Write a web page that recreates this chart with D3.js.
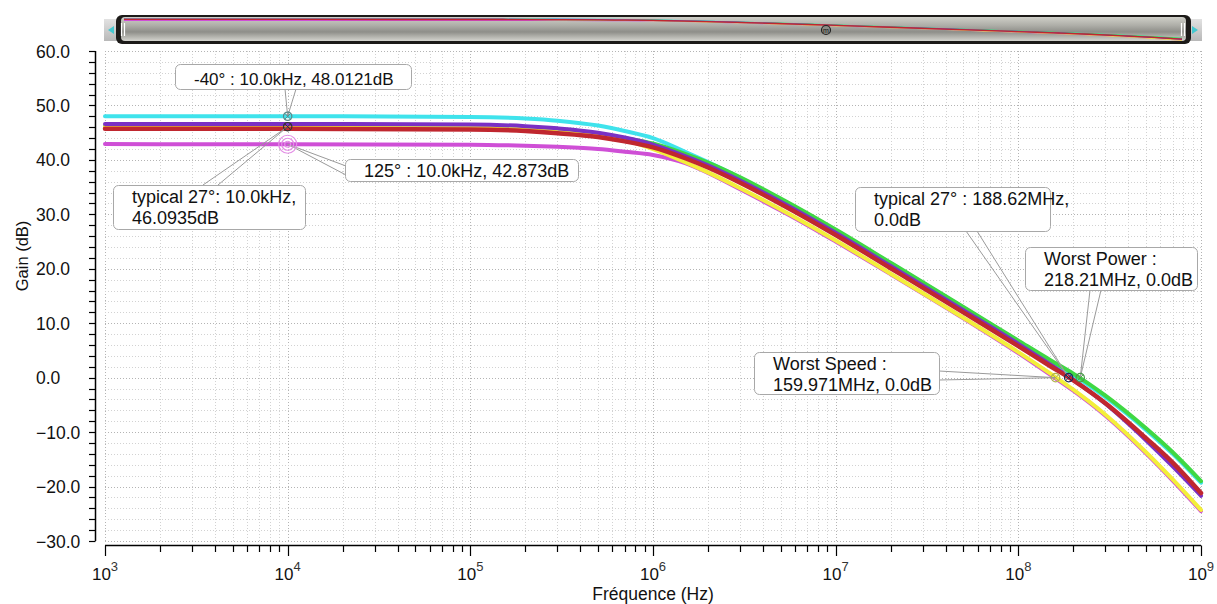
<!DOCTYPE html>
<html><head><meta charset="utf-8">
<script src="https://cdn.jsdelivr.net/npm/d3@7"></script>
<style>
body{margin:0;background:#fff}
svg{display:block;font-family:"Liberation Sans",Arial,Helvetica,sans-serif}
</style>
</head><body>
<svg id="c" width="1217" height="604"></svg>
<script>
// ---------- DATA ----------
const freqs = [1e3,1e4,1e5,2e5,3e5,5e5,7e5,1e6,1.5e6,2e6,3e6,5e6,7e6,1e7,2e7,5e7,1e8,1.5e8,2e8,3e8,5e8,7e8,1e9];
const gainMinus40  = [48.0,48.01,47.9,47.6,47.2,46.3,45.3,44.0,41.5,39.6,36.7,32.7,30.0,27.0,21.0,12.9,6.6,3.0,0.5,-3.6,-9.6,-14.0,-19.3];
const gain125      = [42.9,42.87,42.8,42.6,42.4,42.0,41.5,40.9,39.4,37.6,34.6,30.7,28.0,25.0,19.0,10.9,4.5,0.5,-2.4,-7.0,-13.9,-18.9,-24.5];
const gainWorstPow = [46.2,46.2,46.1,45.8,45.4,44.8,44.0,43.0,41.1,39.5,36.8,32.9,30.2,27.2,21.1,13.0,6.8,3.2,0.75,-3.3,-9.3,-13.7,-19.0];
const gainWorstSpd = [46.1,46.1,46.0,45.7,45.3,44.5,43.6,42.0,39.6,37.7,34.8,30.9,28.2,25.2,19.1,11.0,4.7,0.74,-2.2,-6.8,-13.7,-18.7,-24.3];
const gainPurple   = [46.6,46.6,46.5,46.2,45.8,45.0,44.1,42.8,40.7,39.0,36.2,32.3,29.6,26.6,20.5,12.4,6.2,2.4,-0.4,-4.8,-11.5,-16.3,-21.7];
const gainTypical  = [45.7,45.7,45.6,45.3,44.9,44.2,43.4,42.3,40.3,38.6,35.8,31.9,29.2,26.2,20.1,12.0,5.8,2.1,-0.5,-4.7,-11.1,-15.6,-21.2];

const seriesNames  = ["-40°","125°","Worst Power","Worst Speed","corner","typical 27°"];
const seriesValues = [gainMinus40,gain125,gainWorstPow,gainWorstSpd,gainPurple,gainTypical];
const seriesColors = ["#3fe3ec","#cf4fd6","#3fd843","#f3ef3a","#7a30c4","#c0272f"];

const yTickValues = [-30,-20,-10,0,10,20,30,40,50,60];
const xTickExponents = [3,4,5,6,7,8,9];

const annotLines = [
  ["-40° : 10.0kHz, 48.0121dB"],
  ["typical 27°: 10.0kHz,","46.0935dB"],
  ["125° : 10.0kHz, 42.873dB"],
  ["typical 27° : 188.62MHz,","0.0dB"],
  ["Worst Power :","218.21MHz, 0.0dB"],
  ["Worst Speed :","159.971MHz, 0.0dB"]
];
const annotFreq = [1e4,1e4,1e4,188.62e6,218.21e6,159.971e6];
const annotGain = [48.0121,46.0935,42.873,0,0,0];

// ---------- LAYOUT ----------
const L = 105, R = 1201, T = 51, B = 541;
const boxes = [ // left, top, width, height, font size, leader anchors
  {x:175,y:64,w:236,h:25,fs:17,a:[[285,89],[296,89]]},
  {x:113,y:185,w:192,h:44,fs:18,a:[[203,185],[218,185]]},
  {x:345,y:159,w:233,h:22,fs:18,a:[[346,166],[346,175]]},
  {x:855,y:187,w:195,h:44,fs:18,a:[[966,231],[977,231]]},
  {x:1025,y:247,w:172,h:43,fs:18,a:[[1090,290],[1101,290]]},
  {x:754,y:352,w:185,h:42,fs:18,a:[[939,371],[939,380]]}
];

const svg = d3.select("#c");
const x = d3.scaleLog().domain([1e3,1e9]).range([L,R]);
const y = d3.scaleLinear().domain([-30,60]).range([B,T]);
const isDecade = d => Math.abs(Math.log10(d) - Math.round(Math.log10(d))) < 1e-9;

// ---------- GRID ----------
const grid = svg.append("g");
const minorX = [];
for (let e=3;e<9;e++) for (let m=1;m<10;m++) minorX.push(m*Math.pow(10,e));
minorX.push(1e9);
grid.selectAll("line.gx").data(minorX).join("line")
  .attr("x1",d=>Math.round(x(d))+0.5).attr("x2",d=>Math.round(x(d))+0.5)
  .attr("y1",T).attr("y2",B)
  .attr("stroke",d=>isDecade(d)?"#b4b4b4":"#d2d2d2")
  .attr("stroke-dasharray","1,2");
const minorY = d3.range(-30,61,2);
grid.selectAll("line.gy").data(minorY).join("line")
  .attr("x1",L).attr("x2",R)
  .attr("y1",d=>Math.round(y(d))+0.5).attr("y2",d=>Math.round(y(d))+0.5)
  .attr("stroke",d=>d%10===0?"#b4b4b4":"#d2d2d2")
  .attr("stroke-dasharray","1,2");

// ---------- AXES ----------
const yAxis = svg.append("g");
yAxis.append("line").attr("x1",95.5).attr("x2",95.5).attr("y1",T).attr("y2",B).attr("stroke","#000").attr("stroke-width",1.5);
yAxis.selectAll("line.t").data(minorY).join("line")
  .attr("x1",89).attr("x2",95.5)
  .attr("y1",d=>Math.round(y(d))+0.5).attr("y2",d=>Math.round(y(d))+0.5)
  .attr("stroke","#000").attr("stroke-width",1.2);
yAxis.selectAll("text").data(yTickValues).join("text")
  .attr("x",36).attr("y",d=>y(d)+6.5)
  .attr("font-size",17.5).attr("fill","#111")
  .text(d=>d3.format(".1f")(d));

const xAxis = svg.append("g");
xAxis.append("line").attr("x1",L).attr("x2",R).attr("y1",545.5).attr("y2",545.5).attr("stroke","#000").attr("stroke-width",1.5);
xAxis.selectAll("line.t").data(minorX).join("line")
  .attr("x1",d=>Math.round(x(d))+0.5).attr("x2",d=>Math.round(x(d))+0.5)
  .attr("y1",545.5)
  .attr("y2",d=>isDecade(d)?556:552)
  .attr("stroke","#000").attr("stroke-width",1.2);
const xl = xAxis.selectAll("text").data(xTickExponents).join("text")
  .attr("x",d=>x(Math.pow(10,d))).attr("y",580)
  .attr("text-anchor","middle").attr("fill","#111");
xl.append("tspan").attr("font-size",17).text("10");
xl.append("tspan").attr("font-size",13).attr("dy",-9).attr("fill","#333").text(d=>d);

svg.append("text").attr("x",653).attr("y",600).attr("text-anchor","middle")
  .attr("font-size",17.5).attr("fill","#111").text("Fréquence (Hz)");
svg.append("text").attr("transform","translate(28,256) rotate(-90)")
  .attr("text-anchor","middle").attr("font-size",16.5).attr("fill","#111").text("Gain (dB)");

// ---------- CURVES ----------
const line = d3.line().x((d,i)=>x(freqs[i])).y(d=>y(d)).curve(d3.curveMonotoneX);
const curves = svg.append("g");
seriesValues.forEach((vals,k)=>{
  curves.append("path").attr("d",line(vals)).attr("fill","none")
    .attr("stroke",seriesColors[k]).attr("stroke-width",k===5?4.5:4)
    .attr("stroke-linejoin","round").attr("stroke-linecap","round");
});

// ---------- ANNOTATIONS ----------
const ann = svg.append("g");
annotLines.forEach((lines,i)=>{
  const b = boxes[i];
  const px = x(annotFreq[i]), py = y(annotGain[i]);
  b.a.forEach(p=>{
    ann.append("line").attr("x1",p[0]).attr("y1",p[1]).attr("x2",px).attr("y2",py)
      .attr("stroke","#9a9a9a").attr("stroke-width",1);
  });
});
const mk = svg.append("g");
[3,6,9].forEach(r=>mk.append("circle").attr("cx",x(annotFreq[2])).attr("cy",y(annotGain[2])).attr("r",r)
  .attr("fill","none").attr("stroke","#e48ee6").attr("stroke-width",1.2));
const markerColors = ["#5a8a8a","#333","#e48ee6","#1c2a5a","#4a9a4a","#b0b050"];
[0,1,3,4,5].forEach(i=>{
  const px = x(annotFreq[i]), py = y(annotGain[i]);
  const g = mk.append("g").attr("transform",`translate(${px},${py})`);
  g.append("circle").attr("r",4.2).attr("fill","none").attr("stroke",markerColors[i]).attr("stroke-width",1.2);
  g.append("path").attr("d","M-3,-3L3,3M-3,3L3,-3").attr("stroke",markerColors[i]).attr("stroke-width",1);
});
annotLines.forEach((lines,i)=>{
  const b = boxes[i];
  ann.append("rect").attr("x",b.x+0.5).attr("y",b.y+0.5).attr("width",b.w).attr("height",b.h)
    .attr("rx",5).attr("fill","#fff").attr("stroke","#a8a8a8").attr("stroke-width",1);
  lines.forEach((t,j)=>{
    ann.append("text").attr("x",b.x+19).attr("y",b.y+(lines.length===1?b.h-4:18+j*21))
      .attr("font-size",b.fs).attr("fill","#111").text(t);
  });
});

// ---------- SCROLLBAR (overview) ----------
const defs = svg.append("defs");
const gr = defs.append("linearGradient").attr("id","sb").attr("x1",0).attr("x2",0).attr("y1",0).attr("y2",1);
[[0,"#cfcfc8"],[0.35,"#aeaea8"],[0.62,"#8e8e89"],[1,"#d4d4ce"]].forEach(s=>gr.append("stop").attr("offset",s[0]).attr("stop-color",s[1]));
const btn = defs.append("linearGradient").attr("id","btn").attr("x1",0).attr("x2",0).attr("y1",0).attr("y2",1);
[[0,"#e2e2e2"],[1,"#b8b8b8"]].forEach(s=>btn.append("stop").attr("offset",s[0]).attr("stop-color",s[1]));
defs.append("clipPath").attr("id","sbclip").append("rect").attr("x",122).attr("y",17).attr("width",1063).attr("height",24).attr("rx",3);

const sbar = svg.append("g");
sbar.append("rect").attr("x",104).attr("y",19).attr("width",14).attr("height",22).attr("fill","url(#btn)");
sbar.append("rect").attr("x",1188).attr("y",19).attr("width",14).attr("height",22).attr("fill","url(#btn)");
sbar.append("path").attr("d","M108,30L114,26L114,34Z").attr("fill","#44c8d0");
sbar.append("path").attr("d","M1198,30L1192,26L1192,34Z").attr("fill","#44c8d0");
sbar.append("rect").attr("x",116).attr("y",15).attr("width",1075).attr("height",29).attr("rx",6).attr("fill","#1c1a18");
sbar.append("rect").attr("x",121).attr("y",17).attr("width",1065).attr("height",24).attr("rx",4).attr("fill","url(#sb)");
const mx = d3.scaleLog().domain([1e3,1e9]).range([124,1182]);
const my = d3.scaleLinear().domain([49,-26]).range([18.5,40.5]);
const mline = d3.line().x((d,i)=>mx(freqs[i])).y(d=>my(d)).curve(d3.curveMonotoneX);
const mg = sbar.append("g").attr("clip-path","url(#sbclip)");
seriesValues.forEach((vals,k)=>{
  mg.append("path").attr("d",mline(vals)).attr("fill","none").attr("stroke",seriesColors[k]).attr("stroke-width",1.3);
});
sbar.append("path").attr("d","M121.5,23V36M124.5,23V36").attr("stroke","#fff").attr("stroke-width",1.2);
sbar.append("path").attr("d","M1181.5,23V36M1184.5,23V36").attr("stroke","#fff").attr("stroke-width",1.2);
const mm = sbar.append("g").attr("transform","translate(826,30)");
mm.append("circle").attr("r",4.5).attr("fill","#8a8a84").attr("stroke","#222").attr("stroke-width",1.2);
mm.append("text").attr("y",2.5).attr("text-anchor","middle").attr("font-size",7).attr("fill","#111").text("m");
</script>
</body></html>
